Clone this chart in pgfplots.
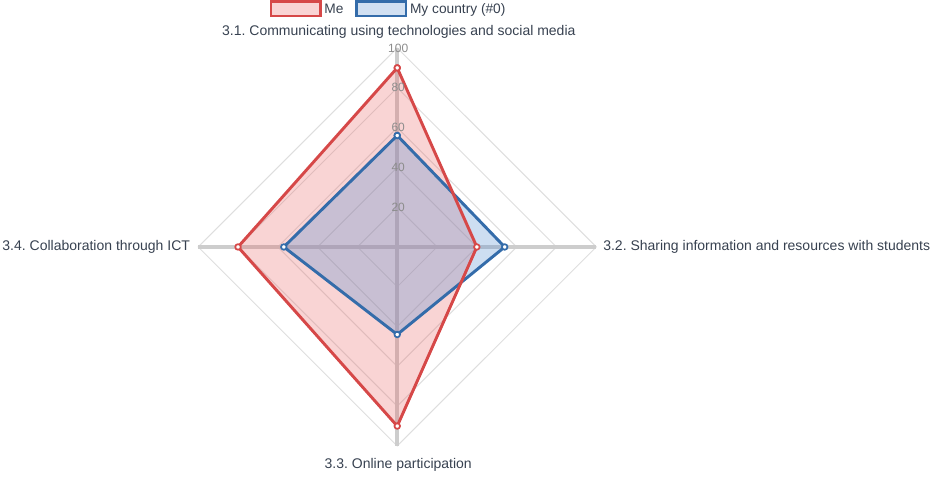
\documentclass[border=0pt]{standalone}
\usepackage{pgfplots}
\pgfplotsset{compat=1.18}
\usepackage{fontspec}
\setmainfont{Liberation Sans}
\frenchspacing
\definecolor{mered}{RGB}{214,72,72}
\definecolor{mefill}{RGB}{232,100,100}
\definecolor{cblue}{RGB}{52,108,170}
\definecolor{cfill}{RGB}{90,145,210}
\definecolor{spoke}{RGB}{205,205,205}
\definecolor{gridc}{RGB}{222,222,222}
\definecolor{lab}{RGB}{55,65,80}
\definecolor{tickc}{RGB}{140,140,140}
\begin{document}
\begin{tikzpicture}
\begin{axis}[
 scale only axis, width=699pt, height=357pt,
 xmin=-199.6, xmax=268.7, ymin=-115.1, ymax=124.1,
 axis lines=none, clip=false,
 legend style={at={(axis cs:-4.2,124.1)}, anchor=north, draw=none, fill=none,
   legend columns=2, font=\fontsize{10.3}{12}\selectfont, text=lab,
   /tikz/every even column/.append style={column sep=7pt}, inner sep=0pt, outer sep=0pt},
 legend cell align=left,
 legend image code/.code={\draw[#1, line width=2pt] (0pt,-5pt) rectangle (37pt,6pt);},
]
\coordinate (sw) at (rel axis cs:0,0);
\coordinate (ne) at (rel axis cs:1,1);
\addlegendimage{draw=mered, fill=mefill, fill opacity=0.28}
\addlegendentry{Me}
\addlegendimage{draw=cblue, fill=cfill, fill opacity=0.28}
\addlegendentry{My country (\#0)}
% grid diamonds
\addplot[gridc, line width=0.75pt, forget plot] coordinates {(0,20) (20,0) (0,-20) (-20,0) (0,20)};
\addplot[gridc, line width=0.75pt, forget plot] coordinates {(0,40) (40,0) (0,-40) (-40,0) (0,40)};
\addplot[gridc, line width=0.75pt, forget plot] coordinates {(0,60) (60,0) (0,-60) (-60,0) (0,60)};
\addplot[gridc, line width=0.75pt, forget plot] coordinates {(0,80) (80,0) (0,-80) (-80,0) (0,80)};
\addplot[gridc, line width=0.75pt, forget plot] coordinates {(0,100) (100,0) (0,-100) (-100,0) (0,100)};
% spokes
\addplot[spoke, line width=3pt, forget plot] coordinates {(0,-100) (0,100)};
\addplot[spoke, line width=3pt, forget plot] coordinates {(-100,0) (100,0)};
% fills
\addplot[draw=none, fill=mefill, fill opacity=0.28, forget plot]
  coordinates {(0,90) (40,0) (0,-90) (-80,0) (0,90)};
\addplot[draw=none, fill=cfill, fill opacity=0.3, forget plot]
  coordinates {(0,56) (54,0) (0,-44) (-57,0) (0,56)};
% lines
\addplot[draw=cblue, line width=2.2pt, line join=round,
  mark=*, mark size=2.1pt, mark options={fill=white, draw=cblue, line width=1.3pt}, forget plot]
  coordinates {(0,56) (54,0) (0,-44) (-57,0) (0,56)};
\addplot[draw=mered, line width=2.2pt, line join=round,
  mark=*, mark size=2.1pt, mark options={fill=white, draw=mered, line width=1.3pt}, forget plot]
  coordinates {(0,90) (40,0) (0,-90) (-80,0) (0,90)};
% tick labels
\node[text=tickc, font=\fontsize{9}{10}\selectfont] at (axis cs:0.5,100) {100};
\node[text=tickc, font=\fontsize{9}{10}\selectfont] at (axis cs:0.5,80) {80};
\node[text=tickc, font=\fontsize{9}{10}\selectfont] at (axis cs:0.5,60) {60};
\node[text=tickc, font=\fontsize{9}{10}\selectfont] at (axis cs:0.5,40) {40};
\node[text=tickc, font=\fontsize{9}{10}\selectfont] at (axis cs:0.5,20) {20};
% axis labels
\node[text=lab, font=\fontsize{10.5}{12}\selectfont] at (axis cs:0.8,108) {3.1. Communicating using technologies and social media};
\node[text=lab, font=\fontsize{10.5}{12}\selectfont, anchor=west, inner sep=0pt] at (axis cs:103.4,0) {3.2. Sharing information and resources with students};
\node[text=lab, font=\fontsize{10.5}{12}\selectfont] at (axis cs:0.5,-109.5) {3.3. Online participation};
\node[text=lab, font=\fontsize{10.5}{12}\selectfont, anchor=east, inner sep=0pt] at (axis cs:-104,0) {3.4. Collaboration through ICT};
\end{axis}
\pgfresetboundingbox
\path[use as bounding box] (sw) rectangle (ne);
\end{tikzpicture}
\end{document}
